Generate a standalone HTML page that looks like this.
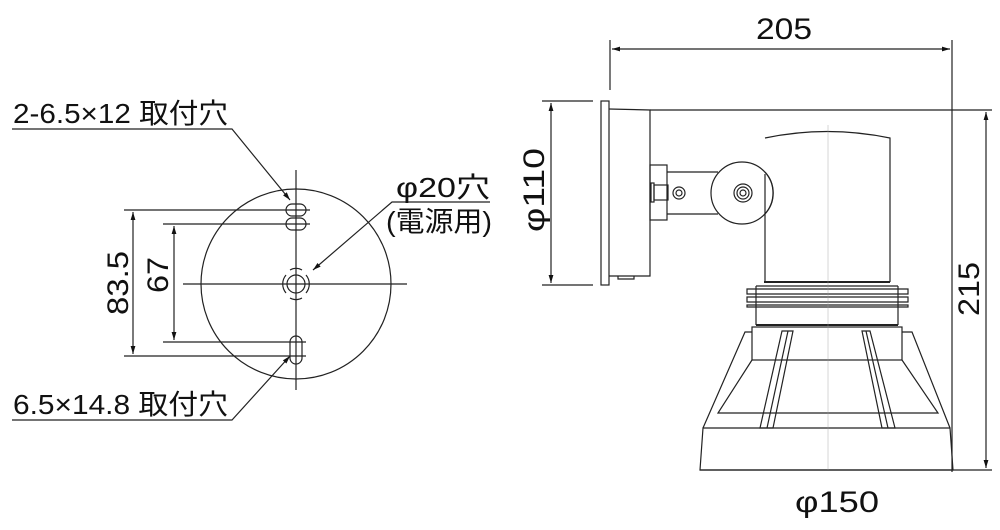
<!DOCTYPE html>
<html><head><meta charset="utf-8"><style>
html,body{margin:0;padding:0;background:#fff;}
svg{display:block;}
text{font-family:"Liberation Sans","Noto Sans CJK JP",sans-serif;fill:#111;}
</style></head><body>
<svg width="1000" height="530" viewBox="0 0 1000 530" xmlns="http://www.w3.org/2000/svg">
<defs>
<marker id="a" viewBox="0 0 10 10" refX="10" refY="5" markerWidth="12" markerHeight="8" markerUnits="userSpaceOnUse" orient="auto-start-reverse"><path d="M0,2 L10,5 L0,8 z" fill="#111"/></marker>
</defs>
<g stroke="#222" stroke-width="1.2" fill="none">
<circle cx="296" cy="284" r="95"/>
<line x1="296" y1="170" x2="296" y2="390"/>
<line x1="183" y1="284" x2="407" y2="284"/>
<circle cx="296" cy="284" r="9"/>
<path d="M286,275 a14,14 0 0 0 0,18 M306,275 a14,14 0 0 1 0,18 M290,270 a12,12 0 0 1 12,0 M290,298 a12,12 0 0 0 12,0"/>
<rect x="286" y="204" width="20" height="12" rx="6"/>
<rect x="286" y="218" width="20" height="12" rx="6"/>
<rect x="290" y="336" width="12" height="28" rx="6"/>
<line x1="124" y1="210" x2="310" y2="210"/>
<line x1="163" y1="224" x2="310" y2="224"/>
<line x1="163" y1="342" x2="306" y2="342"/>
<line x1="124" y1="356" x2="306" y2="356"/>
<line x1="133" y1="212" x2="133" y2="354" marker-start="url(#a)" marker-end="url(#a)"/>
<line x1="174" y1="226" x2="174" y2="340" marker-start="url(#a)" marker-end="url(#a)"/>
<polyline points="12,129 232,129 290,200" marker-end="url(#a)"/>
<polyline points="12,420 232,420 290,356" marker-end="url(#a)"/>
<polyline points="490,202 392,202 313,270" marker-end="url(#a)"/>

<line x1="610" y1="40" x2="610" y2="90"/>
<line x1="952" y1="40" x2="952" y2="472"/>
<line x1="612" y1="49" x2="950" y2="49" marker-start="url(#a)" marker-end="url(#a)"/>
<line x1="542" y1="101" x2="593" y2="101"/>
<line x1="542" y1="285" x2="593" y2="285"/>
<line x1="551" y1="103" x2="551" y2="283" marker-start="url(#a)" marker-end="url(#a)"/>
<line x1="650" y1="110" x2="992" y2="110"/>
<line x1="700" y1="470" x2="992" y2="470"/>
<line x1="986" y1="112" x2="986" y2="468" marker-start="url(#a)" marker-end="url(#a)"/>

<rect x="601" y="101" width="8" height="184"/>
<path d="M609,109 L650,110 L650,276 L609,276"/>
<path d="M618,276 L618,279 L634,279 L634,276"/>
<rect x="650" y="165" width="17" height="55"/>
<path d="M667,172 L718,172 M667,214 L718,214"/>
<rect x="651" y="183" width="3" height="19"/>
<rect x="654" y="185" width="14" height="15"/>
<circle cx="679" cy="193" r="6"/><circle cx="679" cy="193" r="3"/>
<circle cx="742" cy="193" r="31" fill="#fff"/>
<path d="M765,172 a31,31 0 0 1 0,42"/>
<circle cx="743" cy="193" r="9"/><circle cx="743" cy="193" r="6"/><circle cx="743" cy="193" r="3"/>
<path d="M765,138 Q827,125 890,138 L890,282 M765,174 L765,282"/>
<line x1="764" y1="282" x2="890" y2="282" stroke-width="2"/>
<path d="M756,286 L898,286 M747,289 L908,289 L908,294 L747,294 z M747,297 L908,297 L908,302 L747,302 z M747,305 L908,305 L908,307 L747,307 z"/>
<path d="M756,286 L756,325 M898,286 L898,325"/>
<line x1="756" y1="325" x2="898" y2="325" stroke-width="2"/>
<rect x="752" y="327" width="150" height="33"/>
<path d="M752,332 L745,332 L703,428 M902,332 L912,332 L950,428"/>
<path d="M752,360 L718,413 L938,413 L902,360"/>
<path d="M782,331 L793,331 L773,428 L760,428 z M788,331 L767,428"/>
<path d="M862,331 L870,331 L895,428 L882,428 z M866,331 L888,428"/>
<path d="M703,428 L950,428 L953,470 L700,470 z"/>
<line x1="828" y1="125" x2="828" y2="470" stroke-width="0.4" stroke="#999"/>
</g>
<g font-size="28">
<text x="13" y="123" textLength="215" lengthAdjust="spacingAndGlyphs">2-6.5×12  取付穴</text>
<text x="13" y="414" textLength="215" lengthAdjust="spacingAndGlyphs">6.5×14.8  取付穴</text>
<text x="396" y="197" textLength="94" lengthAdjust="spacingAndGlyphs">φ20穴</text>
<text x="386" y="231" textLength="106" lengthAdjust="spacingAndGlyphs">(電源用)</text>
<text x="756" y="39" font-size="30" textLength="56" lengthAdjust="spacingAndGlyphs">205</text>
<text x="795" y="512" font-size="30" textLength="84" lengthAdjust="spacingAndGlyphs">φ150</text>
<text transform="translate(128,283) rotate(-90)" text-anchor="middle" font-size="30" textLength="64" lengthAdjust="spacingAndGlyphs">83.5</text>
<text transform="translate(168,275) rotate(-90)" text-anchor="middle" font-size="30" textLength="36" lengthAdjust="spacingAndGlyphs">67</text>
<text transform="translate(544,190) rotate(-90)" text-anchor="middle" font-size="30" textLength="84" lengthAdjust="spacingAndGlyphs">φ110</text>
<text transform="translate(979,289) rotate(-90)" text-anchor="middle" font-size="30" textLength="54" lengthAdjust="spacingAndGlyphs">215</text>
</g>
</svg>
</body></html>
